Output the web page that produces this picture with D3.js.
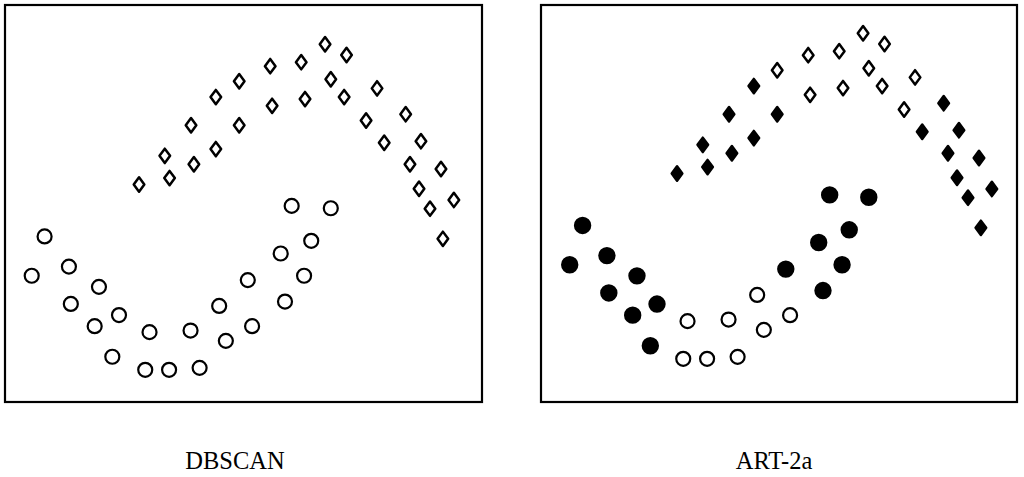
<!DOCTYPE html>
<html>
<head>
<meta charset="utf-8">
<script src="https://cdn.jsdelivr.net/npm/d3@7"></script>
<style>
  html, body { margin: 0; padding: 0; background: #fff; }
  svg { display: block; }
</style>
</head>
<body>
<svg id="chart" width="1024" height="477"></svg>
<script>
// ---- data (arbitrary units) ----
const diamondX = [67.1, 71.6, 62.1, 55.6, 49.1, 68.3, 78.0, 44.2, 62.9, 71.1, 56.0, 84.0, 39.0, 49.1,
                  75.7, 79.5, 87.2, 44.2, 33.5, 39.6, 84.9, 91.4, 34.5, 28.1, 86.8, 94.1, 89.1, 91.8];
const diamondY = [90.1, 87.4, 85.6, 84.6, 80.8, 81.3, 79.0, 76.8, 76.3, 76.8, 74.6, 72.5, 69.7, 69.7,
                  70.9, 65.3, 65.7, 63.7, 62.0, 59.9, 59.9, 58.7, 56.4, 54.8, 53.7, 50.9, 48.7, 41.1];
// ART-2a cluster for diamonds: 1 = filled, 0 = open
const diamondArt = [0, 0, 0, 0, 0, 0, 0, 1, 0, 0, 0, 1, 1, 1,
                    0, 1, 1, 1, 1, 1, 1, 1, 1, 1, 1, 1, 1, 1];

const circleX = [60.1, 68.3, 8.3, 64.2, 57.8, 13.4, 5.6, 62.7, 50.9, 19.7, 58.7, 13.8,
                 44.9, 23.9, 18.8, 51.8, 30.3, 38.9, 46.3, 22.5, 40.8, 29.4, 34.4];
const circleY = [49.4, 48.8, 41.7, 40.6, 37.4, 34.1, 31.8, 31.8, 30.7, 29.0, 25.3, 24.7,
                 24.2, 21.9, 19.1, 19.1, 17.6, 18.0, 15.4, 11.4, 8.6, 8.1, 8.1];
const circleArt = [1, 1, 1, 1, 1, 1, 1, 1, 1, 1, 1, 1,
                   0, 1, 1, 0, 0, 0, 0, 1, 0, 0, 0];

const panelTitles = ["DBSCAN", "ART-2a"];

// ---- layout ----
const svg = d3.select("#chart");
const panels = [
  { title: panelTitles[0], box: [5, 5, 482, 402], plot: { x0: 5, x1: 482, y0: 402, y1: 5 }, labelX: 235, useArt: false },
  { title: panelTitles[1], box: [541, 5, 1017, 402], plot: { x0: 543, x1: 1020, y0: 391, y1: -6 }, labelX: 774, useArt: true }
];

const diamond = d3.symbol().type({
  draw(ctx, size) {
    const w = 5.3, h = 7.2;
    ctx.moveTo(0, -h); ctx.lineTo(w, 0); ctx.lineTo(0, h); ctx.lineTo(-w, 0); ctx.closePath();
  }
})();

panels.forEach(p => {
  const g = svg.append("g");
  const x = d3.scaleLinear().domain([0, 100]).range([p.plot.x0, p.plot.x1]);
  const y = d3.scaleLinear().domain([0, 100]).range([p.plot.y0, p.plot.y1]);

  g.append("rect")
    .attr("x", p.box[0]).attr("y", p.box[1])
    .attr("width", p.box[2] - p.box[0]).attr("height", p.box[3] - p.box[1])
    .attr("fill", "none").attr("stroke", "#000").attr("stroke-width", 2.2);

  g.selectAll("path.dia")
    .data(diamondX.map((v, i) => ({ x: v, y: diamondY[i], f: diamondArt[i] })))
    .join("path")
    .attr("class", "dia")
    .attr("d", diamond)
    .attr("transform", d => `translate(${x(d.x)},${y(d.y)})`)
    .attr("fill", d => (p.useArt && d.f) ? "#000" : "#fff")
    .attr("stroke", "#000")
    .attr("stroke-width", 2.5)
    .attr("stroke-linejoin", "round");

  g.selectAll("circle.pt")
    .data(circleX.map((v, i) => ({ x: v, y: circleY[i], f: circleArt[i] })))
    .join("circle")
    .attr("class", "pt")
    .attr("cx", d => x(d.x))
    .attr("cy", d => y(d.y))
    .attr("r", d => (p.useArt && d.f) ? 7.6 : 7)
    .attr("fill", d => (p.useArt && d.f) ? "#000" : "#fff")
    .attr("stroke", "#000")
    .attr("stroke-width", 2.2);

  svg.append("text")
    .attr("x", p.labelX).attr("y", 469)
    .attr("text-anchor", "middle")
    .attr("font-family", "'Liberation Serif', 'Times New Roman', serif")
    .attr("font-size", 24.5)
    .attr("fill", "#000")
    .text(p.title);
});
</script>
</body>
</html>
